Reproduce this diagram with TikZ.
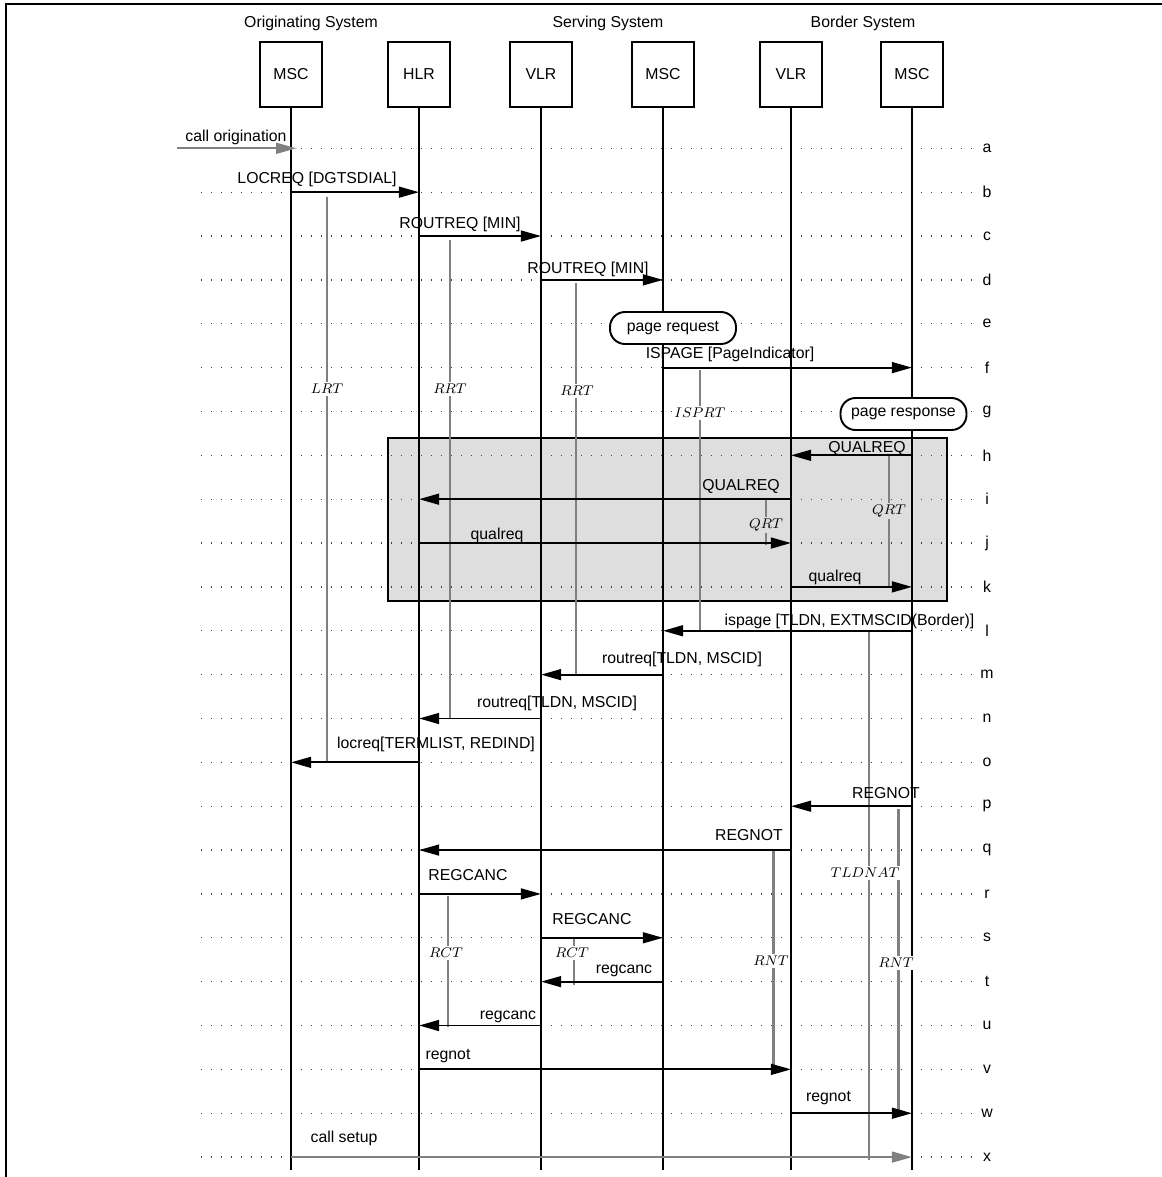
\documentclass[tikz,border=0pt]{standalone}
\usepackage{fontspec}
\setmainfont{Liberation Sans}
\usetikzlibrary{arrows.meta}

\begin{document}
\begin{tikzpicture}[x=0.02cm,y=-0.02cm,line join=miter,
  >={Triangle[length=11.5pt,width=6.2pt]},
  every node/.style={font=\fontsize{9}{11}\selectfont},
  entity/.style={draw,line width=1.1pt,minimum width=1.24cm,
    minimum height=1.3cm,inner sep=0pt},
  life/.style={line width=1.1pt},
  rowline/.style={line width=0.75pt,black!75,dash pattern=on 0.75pt off 4.94pt},
  msg/.style={->,line width=1.1pt},
  extmsg/.style={->,line width=1.1pt,gray},
  lab/.style={inner sep=0pt,text height=1.55ex,text depth=0.3ex},
  timer/.style={line width=0.75pt,gray},
  longtimer/.style={line width=1.7pt,gray},
  timerlab/.style={fill=white,inner sep=1pt,font=\fontsize{8}{9}\selectfont},
  event/.style={draw,fill=white,line width=1.1pt,rounded corners=0.3cm,
    minimum width=2.52cm,minimum height=0.64cm,inner sep=1pt}]
  \useasboundingbox (0,0) rectangle (1162,1177);
  \draw[line width=1.1pt] (6,1177) -- (6,4) -- (1162,4);

  % systems and entities
  \node[lab] (orig) at (311,22) {Originating System};
  \node[lab] (serv) at (608,22) {Serving System};
  \node[lab] (bord) at (863,22) {Border System};
  \node[entity] (mscO) at (291,74.5) {MSC};
  \node[entity] (hlr) at (419,74.5) {HLR};
  \node[entity] (vlrS) at (541,74.5) {VLR};
  \node[entity] (mscS) at (663,74.5) {MSC};
  \node[entity] (vlrB) at (791,74.5) {VLR};
  \node[entity] (mscB) at (912,74.5) {MSC};

  % shaded qualification exchange
  \draw[line width=0.9pt,fill=black!13] (388,438) rectangle (947,601);

  % rows
  \foreach \r [count=\i from 0] in {a,b,c,d,e,f,g,h,i,j,k,l,m,n,o,p,q,r,s,t,u,v,w,x} {
    \pgfmathsetmacro\ry{148.3+43.86*\i}
    \coordinate (\r) at (0,\ry);
    \draw[rowline] (201,\ry) -- (973,\ry);
    \node (row\r) at (987,\ry) {\r};
  }

  % lifelines
  \foreach \n in {mscO,hlr,vlrS,mscS,vlrB,mscB}
    \draw[life] (\n.south) -- (\n.south |- 0,1170);

  % timers
  \draw[timer] (327,197) -- (327,763);
  \draw[timer] (450,240) -- (450,718);
  \draw[timer] (576,283) -- (576,675);
  \draw[timer] (700,370) -- (700,631);
  \draw[timer] (766,500) -- (766,545);
  \draw[timer] (889,455) -- (889,587);
  \draw[timer] (869,631) -- (869,1160);
  \draw[timer] (448,896) -- (448,1027);
  \draw[timer] (574,937) -- (574,985);
  \draw[longtimer] (773,851) -- (773,1067);
  \draw[longtimer] (898,809) -- (898,1110);

  % messages
  \draw[extmsg] (177,148.3) -- ([xshift=3pt]mscO |- a);
  \node[lab] (ta) at (236,136) {call origination};
  \draw[msg] (mscO |- b) -- (hlr |- b);
  \node[lab] (tb) at (317,178) {LOCREQ [DGTSDIAL]};
  \draw[msg] (hlr |- c) -- (vlrS |- c);
  \node[lab] (tc) at (460,223) {ROUTREQ [MIN]};
  \draw[msg] (vlrS |- d) -- (mscS |- d);
  \node[lab] (td) at (588,268) {ROUTREQ [MIN]};
  \node[event] (preq) at (673,328) {page request};
  \draw[msg] (mscS |- f) -- (mscB |- f);
  \node[lab] (tf) at (730,353) {ISPAGE [PageIndicator]};
  \node[event] (presp) at (903.5,414) {page response};
  \draw[msg] (mscB |- h) -- (vlrB |- h);
  \node[lab] (th) at (867,447) {QUALREQ};
  \draw[msg] (vlrB |- i) -- (hlr |- i);
  \node[lab] (ti) at (741,485) {QUALREQ};
  \draw[msg] (hlr |- j) -- (vlrB |- j);
  \node[lab] (tj) at (497,534) {qualreq};
  \draw[msg] (vlrB |- k) -- (mscB |- k);
  \node[lab] (tk) at (835,576) {qualreq};
  \draw[msg] (mscB |- l) -- (mscS |- l);
  \node[lab] (tl) at (849.5,620) {ispage [TLDN, EXTMSCID(Border)]};
  \draw[msg] (mscS |- m) -- (vlrS |- m);
  \node[lab] (tm) at (682,658) {routreq[TLDN, MSCID]};
  \draw[msg] (vlrS |- n) -- (hlr |- n);
  \node[lab] (tn) at (557,702) {routreq[TLDN, MSCID]};
  \draw[msg] (hlr |- o) -- (mscO |- o);
  \node[lab] (to) at (436,743) {locreq[TERMLIST, REDIND]};
  \draw[msg] (mscB |- p) -- (vlrB |- p);
  \node[lab] (tp) at (886,793) {REGNOT};
  \draw[msg] (vlrB |- q) -- (hlr |- q);
  \node[lab] (tq) at (749,835) {REGNOT};
  \draw[msg] (hlr |- r) -- (vlrS |- r);
  \node[lab] (tr) at (468,875) {REGCANC};
  \draw[msg] (vlrS |- s) -- (mscS |- s);
  \node[lab] (ts) at (592,919) {REGCANC};
  \draw[msg] (mscS |- t) -- (vlrS |- t);
  \node[lab] (tt) at (624,968) {regcanc};
  \draw[msg] (vlrS |- u) -- (hlr |- u);
  \node[lab] (tu) at (508,1014) {regcanc};
  \draw[msg] (hlr |- v) -- (vlrB |- v);
  \node[lab] (tv) at (448,1054) {regnot};
  \draw[msg] (vlrB |- w) -- (mscB |- w);
  \node[lab] (tw) at (828.5,1096) {regnot};
  \draw[extmsg] (mscO |- x) -- (mscB |- x);
  \node[lab] (tx) at (344,1137) {call setup};

  % timer labels
  \node[timerlab] (lrt) at (327,389) {$LRT$};
  \node[timerlab] (rrtH) at (450,389) {$RRT$};
  \node[timerlab] (rrtV) at (577,391) {$RRT$};
  \node[timerlab] (isprt) at (700,413) {$ISPRT$};
  \node[timerlab,fill=black!13] (qrtV) at (766,525) {$QRT$};
  \node[timerlab,fill=black!13] (qrtM) at (889,511) {$QRT$};
  \node[timerlab] (tldnat) at (865,873) {$TLDNAT$};
  \node[timerlab] (rctH) at (446,953) {$RCT$};
  \node[timerlab] (rctV) at (572,953) {$RCT$};
  \node[timerlab] (rntV) at (771,961) {$RNT$};
  \node[timerlab] (rntM) at (896,963) {$RNT$};
\end{tikzpicture}
\end{document}
